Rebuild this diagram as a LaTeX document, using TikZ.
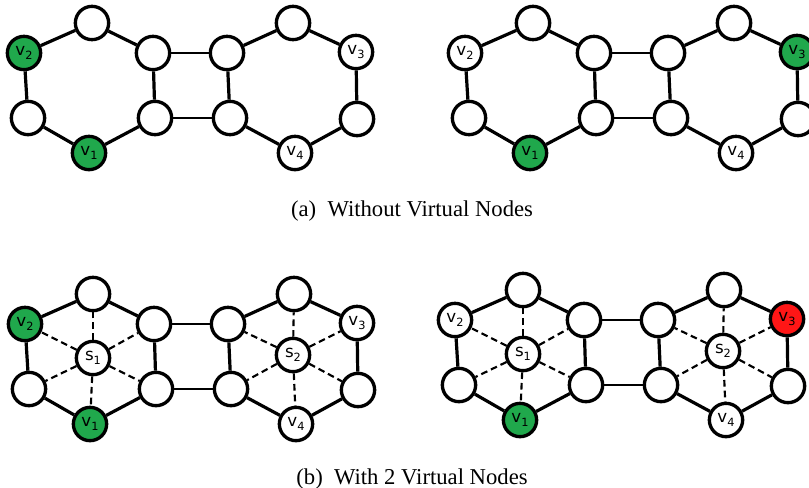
\documentclass[tikz,border=0pt]{standalone}
\usepackage{fontspec}
\setmainfont{Liberation Serif}
\newfontfamily\labelfont{DejaVu Sans}
\usepackage{tikz}

\definecolor{seedgreen}{RGB}{32, 168, 76}
\definecolor{hitred}{RGB}{255, 22, 22}

% vertex label: letter with a lowered index
\newcommand{\vlab}[2]{{\labelfont\fontsize{12.5}{12.5}\selectfont #1\raisebox{-0.45ex}{\fontsize{8.5}{8.5}\selectfont #2}}}

% two rings joined by a square
\newcommand{\ringpair}{%
  % left ring
  \node[vertex] (t1) at (92, 23) {};
  \node[vertex, tint2] (v2) at (24, 53) {\vlab{v}{2}};
  \node[vertex] (a1) at (153, 53) {};
  \node[vertex] (b0) at (28, 118) {};
  \node[vertex, tint1] (v1) at (89, 153) {\vlab{v}{1}};
  \node[vertex] (b1) at (155, 118) {};
  % right ring
  \node[vertex] (a2) at (227, 53) {};
  \node[vertex] (b2) at (230, 118) {};
  \node[vertex] (t2) at (293, 23) {};
  \node[vertex, tint3] (v3) at (356, 52) {\vlab{v}{3}};
  \node[vertex] (b3) at (357, 119) {};
  \node[vertex] (v4) at (295, 153) {\vlab{v}{4}};
  \draw[link] (t1) -- (v2) -- (b0) -- (v1) -- (b1) -- (a1) -- (t1);
  \draw[bridge] (a1) -- (a2) (b1) -- (b2);
  \draw[link] (a2) -- (t2) -- (v3) -- (b3) -- (v4) -- (b2) -- (a2);
}

% one virtual node in the middle of each ring
\newcommand{\virtualhubs}{%
  \node[vertex] (s1) at (92, 87) {\vlab{s}{1}};
  \node[vertex] (s2) at (292, 84) {\vlab{s}{2}};
  \foreach \n in {t1, v2, a1, b0, v1, b1}
    \draw[virtuallink] (s1) -- (\n);
  \foreach \n in {t2, a2, v3, b2, v4, b3}
    \draw[virtuallink] (s2) -- (\n);
}

\begin{document}
\begin{tikzpicture}[
  x=0.75pt, y=-0.75pt,
  vertex/.style={circle, draw, line width=2.5pt, fill=white, minimum size=25pt, inner sep=0pt},
  seed/.style={fill=seedgreen},
  hit/.style={fill=hitred},
  tint1/.style={}, tint2/.style={}, tint3/.style={},
  link/.style={line width=2.4pt},
  bridge/.style={line width=2.05pt},
  virtuallink/.style={line width=1.6pt, dash pattern=on 5pt off 3pt},
  caption/.style={font=\fontsize{17}{17}\selectfont, anchor=base},
]
\useasboundingbox (0, 0) rectangle (809, 487);

% ==================== (a) ====================
\begin{scope}[name prefix=al-, tint1/.style=seed, tint2/.style=seed]
  \ringpair
\end{scope}
\begin{scope}[shift={(441, 0)}, name prefix=ar-, tint1/.style=seed, tint3/.style=seed]
  \ringpair
\end{scope}
\node[caption] (capa) at (412, 216) {(a)\enspace Without Virtual Nodes};

% ==================== (b) ====================
\begin{scope}[shift={(1, 271)}, name prefix=bl-, tint1/.style=seed, tint2/.style=seed]
  \ringpair
  \virtualhubs
\end{scope}
\begin{scope}[shift={(431, 267)}, name prefix=br-, tint1/.style=seed, tint3/.style=hit]
  \ringpair
  \virtualhubs
\end{scope}
\node[caption] (capb) at (412, 484) {(b)\enspace With 2 Virtual Nodes};

\end{tikzpicture}
\end{document}
